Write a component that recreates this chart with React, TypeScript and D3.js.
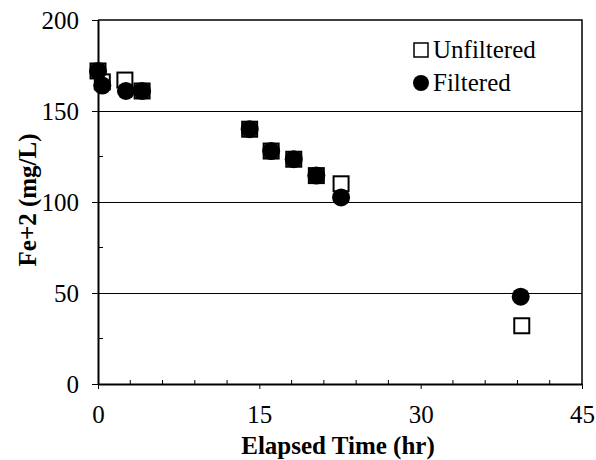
import React, { useEffect, useRef } from "react";
import * as d3 from "d3";

// Fe+2 concentration over time
const unfilteredTime = [0, 0.4, 2.5, 4.1, 14.1, 16.1, 18.2, 20.3, 22.6, 39.4];
const unfilteredFe = [172, 166, 167, 161, 140, 128, 123.5, 114.5, 110, 32];
const filteredTime = [0, 0.4, 2.6, 4.1, 14.1, 16.1, 18.2, 20.3, 22.6, 39.3];
const filteredFe = [172, 164, 161, 161, 140, 128, 123.5, 114.5, 102.5, 48];

const xTicks = [0, 15, 30, 45];
const yTicks = [0, 50, 100, 150, 200];
const gridValues = [50, 100, 150];
const legendLabels = ["Unfiltered", "Filtered"];

const FONT = "'Liberation Serif', 'Times New Roman', serif";

function App() {
  const ref = useRef<SVGSVGElement | null>(null);

  useEffect(() => {
    if (!ref.current) return;
    const svg = d3.select(ref.current);
    svg.selectAll("*").remove();

    const margin = { top: 20, right: 14, bottom: 76, left: 98 };
    const width = 596 - margin.left - margin.right;
    const height = 460 - margin.top - margin.bottom;

    const g = svg
      .append("g")
      .attr("transform", `translate(${margin.left},${margin.top})`);

    const x = d3.scaleLinear().domain([0, 45]).range([0, width]);
    const y = d3.scaleLinear().domain([0, 200]).range([height, 0]);

    // gridlines
    g.selectAll("line.grid")
      .data(gridValues)
      .enter()
      .append("line")
      .attr("x1", 0)
      .attr("x2", width)
      .attr("y1", (d) => Math.round(y(d)) + 0.5)
      .attr("y2", (d) => Math.round(y(d)) + 0.5)
      .attr("stroke", "#000")
      .attr("stroke-width", 1);

    // frame (top, right)
    g.append("path")
      .attr("d", `M0,0H${width}V${height}`)
      .attr("fill", "none")
      .attr("stroke", "#000")
      .attr("stroke-width", 1.5);

    // minor ticks
    g.selectAll("line.xminor")
      .data(d3.range(3, 45, 3).filter((d) => d % 15 !== 0))
      .enter()
      .append("line")
      .attr("x1", (d) => x(d))
      .attr("x2", (d) => x(d))
      .attr("y1", height)
      .attr("y2", height - 4)
      .attr("stroke", "#000");
    g.selectAll("line.yminor")
      .data(d3.range(25, 200, 50))
      .enter()
      .append("line")
      .attr("x1", 0)
      .attr("x2", 5)
      .attr("y1", (d) => y(d))
      .attr("y2", (d) => y(d))
      .attr("stroke", "#000");

    // axes
    const xAxis = g
      .append("g")
      .attr("transform", `translate(0,${height})`)
      .call(d3.axisBottom(x).tickValues(xTicks).tickSize(5).tickSizeOuter(0).tickPadding(16));
    const yAxis = g
      .append("g")
      .call(d3.axisLeft(y).tickValues(yTicks).tickSize(6).tickSizeOuter(0).tickPadding(13));

    [xAxis, yAxis].forEach((a) => {
      a.select(".domain").attr("stroke", "#000").attr("stroke-width", 2);
      a.selectAll(".tick line").attr("stroke", "#000");
      a.selectAll(".tick text")
        .attr("font-family", FONT)
        .attr("font-size", 25)
        .attr("fill", "#000");
    });

    // titles
    svg
      .append("text")
      .attr("x", margin.left + width / 2 - 2)
      .attr("y", 454)
      .attr("text-anchor", "middle")
      .attr("font-family", FONT)
      .attr("font-weight", "bold")
      .attr("font-size", 25)
      .text("Elapsed Time (hr)");
    svg
      .append("text")
      .attr("transform", `translate(36,${margin.top + height / 2 - 2}) rotate(-90)`)
      .attr("text-anchor", "middle")
      .attr("font-family", FONT)
      .attr("font-weight", "bold")
      .attr("font-size", 25)
      .text("Fe+2 (mg/L)");

    const unfiltered = unfilteredTime.map((t, i) => ({ t, v: unfilteredFe[i] }));
    const filtered = filteredTime.map((t, i) => ({ t, v: filteredFe[i] }));

    // Unfiltered: open squares
    g.selectAll("rect.unf")
      .data(unfiltered)
      .enter()
      .append("rect")
      .attr("x", (d) => x(d.t) - 7.5)
      .attr("y", (d) => y(d.v) - 7.5)
      .attr("width", 15)
      .attr("height", 15)
      .attr("fill", "#fff")
      .attr("stroke", "#000")
      .attr("stroke-width", 2);

    // Filtered: filled circles
    g.selectAll("circle.fil")
      .data(filtered)
      .enter()
      .append("circle")
      .attr("cx", (d) => x(d.t))
      .attr("cy", (d) => y(d.v))
      .attr("r", 9)
      .attr("fill", "#000");

    // legend
    const leg = svg.append("g");
    leg.append("rect")
      .attr("x", 414)
      .attr("y", 43)
      .attr("width", 14)
      .attr("height", 14)
      .attr("fill", "#fff")
      .attr("stroke", "#000")
      .attr("stroke-width", 1.5);
    leg.append("circle").attr("cx", 421).attr("cy", 83).attr("r", 8).attr("fill", "#000");
    leg.selectAll("text")
      .data(legendLabels)
      .enter()
      .append("text")
      .attr("x", 433)
      .attr("y", (d, i) => 58 + i * 33)
      .attr("font-family", FONT)
      .attr("font-size", 25)
      .text((d) => d);
  }, []);

  return (
    <svg
      ref={ref}
      width={596}
      height={460}
      style={{ position: "fixed", left: 0, top: 0, display: "block", background: "#fff" }}
    />
  );
}

export default App;
